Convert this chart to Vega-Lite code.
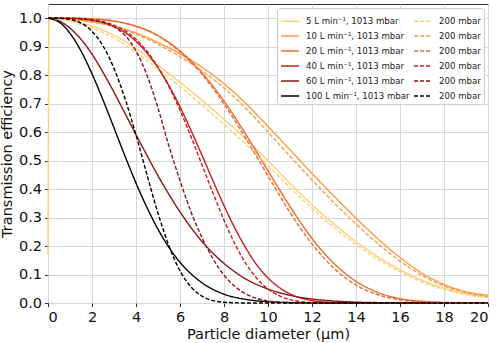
{
  "$schema": "https://vega.github.io/schema/vega-lite/v6.json",
  "width": 440,
  "height": 299,
  "autosize": {"type": "none"},
  "padding": {"left": 48, "top": 4, "right": 12, "bottom": 40},
  "config": {
    "font": "DejaVu Sans",
    "view": {"stroke": "#333333", "strokeWidth": 1},
    "axis": {
      "domain": false,
      "grid": true,
      "gridColor": "#d9d9d9",
      "gridWidth": 1,
      "tickColor": "#333333",
      "tickSize": 3.5,
      "labelFontSize": 14.5,
      "labelColor": "#111111",
      "titleFontSize": 14.5,
      "titleFontWeight": "normal",
      "titleColor": "#111111"
    },
    "legend": {
      "labelFontSize": 8.6,
      "labelColor": "#222222",
      "symbolSize": 324,
      "symbolStrokeWidth": 1.5,
      "symbolType": "stroke",
      "rowPadding": -0.2,
      "columnPadding": 1,
      "labelOffset": 6,
      "padding": 3,
      "fillColor": "rgba(255,255,255,0.85)",
      "strokeColor": "#cccccc",
      "cornerRadius": 3
    }
  },
  "data": {
    "values": [
      {"s":"5s","d":0,"v":0.17},{"s":"5s","d":0.05,"v":1.0},{"s":"5s","d":0.5,"v":0.998},{"s":"5s","d":1,"v":0.992},{"s":"5s","d":1.5,"v":0.983},{"s":"5s","d":2,"v":0.972},{"s":"5s","d":3,"v":0.94},{"s":"5s","d":4,"v":0.893},{"s":"5s","d":5,"v":0.835},{"s":"5s","d":6,"v":0.775},{"s":"5s","d":7,"v":0.712},{"s":"5s","d":8,"v":0.645},{"s":"5s","d":9,"v":0.575},{"s":"5s","d":10,"v":0.5},{"s":"5s","d":11,"v":0.42},{"s":"5s","d":12,"v":0.345},{"s":"5s","d":13,"v":0.277},{"s":"5s","d":14,"v":0.215},{"s":"5s","d":15,"v":0.162},{"s":"5s","d":16,"v":0.117},{"s":"5s","d":17,"v":0.08},{"s":"5s","d":18,"v":0.052},{"s":"5s","d":19,"v":0.033},{"s":"5s","d":20,"v":0.022},
      {"s":"10s","d":0,"v":1},{"s":"10s","d":1,"v":0.997},{"s":"10s","d":2,"v":0.988},{"s":"10s","d":3,"v":0.972},{"s":"10s","d":4,"v":0.948},{"s":"10s","d":5,"v":0.915},{"s":"10s","d":6,"v":0.875},{"s":"10s","d":7,"v":0.828},{"s":"10s","d":8,"v":0.77},{"s":"10s","d":9,"v":0.7},{"s":"10s","d":10,"v":0.62},{"s":"10s","d":11,"v":0.538},{"s":"10s","d":12,"v":0.455},{"s":"10s","d":13,"v":0.375},{"s":"10s","d":14,"v":0.298},{"s":"10s","d":15,"v":0.225},{"s":"10s","d":16,"v":0.16},{"s":"10s","d":17,"v":0.105},{"s":"10s","d":18,"v":0.065},{"s":"10s","d":19,"v":0.04},{"s":"10s","d":20,"v":0.027},
      {"s":"20s","d":0,"v":1},{"s":"20s","d":1,"v":1.0},{"s":"20s","d":2,"v":0.998},{"s":"20s","d":3,"v":0.99},{"s":"20s","d":4,"v":0.972},{"s":"20s","d":5,"v":0.939},{"s":"20s","d":6,"v":0.885},{"s":"20s","d":7,"v":0.808},{"s":"20s","d":8,"v":0.709},{"s":"20s","d":9,"v":0.591},{"s":"20s","d":10,"v":0.464},{"s":"20s","d":11,"v":0.339},{"s":"20s","d":12,"v":0.227},{"s":"20s","d":13,"v":0.139},{"s":"20s","d":14,"v":0.076},{"s":"20s","d":15,"v":0.037},{"s":"20s","d":16,"v":0.015},{"s":"20s","d":17,"v":0.006},{"s":"20s","d":18,"v":0.002},{"s":"20s","d":19,"v":0.0005},{"s":"20s","d":20,"v":0.0001},
      {"s":"40s","d":0,"v":1},{"s":"40s","d":1,"v":0.9995},{"s":"40s","d":2,"v":0.993},{"s":"40s","d":2.5,"v":0.985},{"s":"40s","d":3,"v":0.971},{"s":"40s","d":3.5,"v":0.95},{"s":"40s","d":4,"v":0.919},{"s":"40s","d":4.5,"v":0.878},{"s":"40s","d":5,"v":0.826},{"s":"40s","d":5.5,"v":0.763},{"s":"40s","d":6,"v":0.689},{"s":"40s","d":6.5,"v":0.606},{"s":"40s","d":7,"v":0.519},{"s":"40s","d":7.5,"v":0.429},{"s":"40s","d":8,"v":0.342},{"s":"40s","d":8.5,"v":0.262},{"s":"40s","d":9,"v":0.192},{"s":"40s","d":9.5,"v":0.133},{"s":"40s","d":10,"v":0.088},{"s":"40s","d":10.5,"v":0.055},{"s":"40s","d":11,"v":0.032},{"s":"40s","d":12,"v":0.0087},{"s":"40s","d":13,"v":0.0017},{"s":"40s","d":14,"v":0.0003},{"s":"40s","d":16,"v":0},{"s":"40s","d":20,"v":0},
      {"s":"60s","d":0,"v":1},{"s":"60s","d":0.5,"v":0.991},{"s":"60s","d":1,"v":0.965},{"s":"60s","d":1.5,"v":0.926},{"s":"60s","d":2,"v":0.874},{"s":"60s","d":2.5,"v":0.81},{"s":"60s","d":3,"v":0.74},{"s":"60s","d":3.5,"v":0.666},{"s":"60s","d":4,"v":0.591},{"s":"60s","d":4.5,"v":0.518},{"s":"60s","d":5,"v":0.447},{"s":"60s","d":5.5,"v":0.381},{"s":"60s","d":6,"v":0.32},{"s":"60s","d":7,"v":0.216},{"s":"60s","d":8,"v":0.139},{"s":"60s","d":9,"v":0.084},{"s":"60s","d":10,"v":0.049},{"s":"60s","d":11,"v":0.027},{"s":"60s","d":12,"v":0.014},{"s":"60s","d":13,"v":0.007},{"s":"60s","d":14,"v":0.003},{"s":"60s","d":15,"v":0.0014},{"s":"60s","d":16,"v":0.0006},{"s":"60s","d":17,"v":0.0002},{"s":"60s","d":20,"v":0},
      {"s":"100s","d":0,"v":1},{"s":"100s","d":0.5,"v":0.987},{"s":"100s","d":1,"v":0.947},{"s":"100s","d":1.5,"v":0.885},{"s":"100s","d":2,"v":0.805},{"s":"100s","d":2.5,"v":0.713},{"s":"100s","d":3,"v":0.615},{"s":"100s","d":3.5,"v":0.516},{"s":"100s","d":4,"v":0.421},{"s":"100s","d":4.5,"v":0.335},{"s":"100s","d":5,"v":0.259},{"s":"100s","d":5.5,"v":0.195},{"s":"100s","d":6,"v":0.143},{"s":"100s","d":7,"v":0.071},{"s":"100s","d":8,"v":0.031},{"s":"100s","d":9,"v":0.0125},{"s":"100s","d":10,"v":0.0045},{"s":"100s","d":11,"v":0.0014},{"s":"100s","d":12,"v":0.0004},{"s":"100s","d":14,"v":0},{"s":"100s","d":20,"v":0},
      {"s":"5d","d":0,"v":1},{"s":"5d","d":0.5,"v":0.997},{"s":"5d","d":1,"v":0.99},{"s":"5d","d":1.5,"v":0.978},{"s":"5d","d":2,"v":0.965},{"s":"5d","d":3,"v":0.93},{"s":"5d","d":4,"v":0.88},{"s":"5d","d":5,"v":0.822},{"s":"5d","d":6,"v":0.76},{"s":"5d","d":7,"v":0.695},{"s":"5d","d":8,"v":0.627},{"s":"5d","d":9,"v":0.557},{"s":"5d","d":10,"v":0.482},{"s":"5d","d":11,"v":0.405},{"s":"5d","d":12,"v":0.332},{"s":"5d","d":13,"v":0.265},{"s":"5d","d":14,"v":0.205},{"s":"5d","d":15,"v":0.153},{"s":"5d","d":16,"v":0.11},{"s":"5d","d":17,"v":0.074},{"s":"5d","d":18,"v":0.048},{"s":"5d","d":19,"v":0.03},{"s":"5d","d":20,"v":0.019},
      {"s":"10d","d":0,"v":1},{"s":"10d","d":1,"v":0.997},{"s":"10d","d":2,"v":0.987},{"s":"10d","d":3,"v":0.97},{"s":"10d","d":4,"v":0.944},{"s":"10d","d":5,"v":0.908},{"s":"10d","d":6,"v":0.865},{"s":"10d","d":7,"v":0.815},{"s":"10d","d":8,"v":0.755},{"s":"10d","d":9,"v":0.683},{"s":"10d","d":10,"v":0.6},{"s":"10d","d":11,"v":0.515},{"s":"10d","d":12,"v":0.432},{"s":"10d","d":13,"v":0.352},{"s":"10d","d":14,"v":0.277},{"s":"10d","d":15,"v":0.208},{"s":"10d","d":16,"v":0.147},{"s":"10d","d":17,"v":0.097},{"s":"10d","d":18,"v":0.06},{"s":"10d","d":19,"v":0.036},{"s":"10d","d":20,"v":0.023},
      {"s":"20d","d":0,"v":1},{"s":"20d","d":1,"v":1.0},{"s":"20d","d":2,"v":0.998},{"s":"20d","d":3,"v":0.99},{"s":"20d","d":4,"v":0.972},{"s":"20d","d":5,"v":0.938},{"s":"20d","d":6,"v":0.882},{"s":"20d","d":7,"v":0.803},{"s":"20d","d":8,"v":0.699},{"s":"20d","d":9,"v":0.577},{"s":"20d","d":10,"v":0.446},{"s":"20d","d":11,"v":0.318},{"s":"20d","d":12,"v":0.207},{"s":"20d","d":13,"v":0.122},{"s":"20d","d":14,"v":0.063},{"s":"20d","d":15,"v":0.029},{"s":"20d","d":16,"v":0.011},{"s":"20d","d":17,"v":0.004},{"s":"20d","d":18,"v":0.0012},{"s":"20d","d":19,"v":0.0003},{"s":"20d","d":20,"v":0.0001},
      {"s":"40d","d":0,"v":1},{"s":"40d","d":1,"v":1.0},{"s":"40d","d":2,"v":0.995},{"s":"40d","d":2.5,"v":0.988},{"s":"40d","d":3,"v":0.976},{"s":"40d","d":3.5,"v":0.956},{"s":"40d","d":4,"v":0.926},{"s":"40d","d":4.5,"v":0.884},{"s":"40d","d":5,"v":0.828},{"s":"40d","d":5.5,"v":0.759},{"s":"40d","d":6,"v":0.677},{"s":"40d","d":6.5,"v":0.584},{"s":"40d","d":7,"v":0.485},{"s":"40d","d":7.5,"v":0.386},{"s":"40d","d":8,"v":0.291},{"s":"40d","d":8.5,"v":0.207},{"s":"40d","d":9,"v":0.138},{"s":"40d","d":9.5,"v":0.086},{"s":"40d","d":10,"v":0.049},{"s":"40d","d":10.5,"v":0.026},{"s":"40d","d":11,"v":0.012},{"s":"40d","d":12,"v":0.0019},{"s":"40d","d":13,"v":0.0002},{"s":"40d","d":15,"v":0},{"s":"40d","d":20,"v":0},
      {"s":"60d","d":0,"v":1},{"s":"60d","d":1,"v":0.999},{"s":"60d","d":1.5,"v":0.997},{"s":"60d","d":2,"v":0.993},{"s":"60d","d":2.5,"v":0.985},{"s":"60d","d":3,"v":0.97},{"s":"60d","d":3.5,"v":0.94},{"s":"60d","d":4,"v":0.885},{"s":"60d","d":4.5,"v":0.8},{"s":"60d","d":5,"v":0.685},{"s":"60d","d":5.5,"v":0.55},{"s":"60d","d":6,"v":0.43},{"s":"60d","d":6.5,"v":0.32},{"s":"60d","d":7,"v":0.23},{"s":"60d","d":7.5,"v":0.155},{"s":"60d","d":8,"v":0.098},{"s":"60d","d":8.5,"v":0.058},{"s":"60d","d":9,"v":0.032},{"s":"60d","d":9.5,"v":0.016},{"s":"60d","d":10,"v":0.007},{"s":"60d","d":10.5,"v":0.003},{"s":"60d","d":11,"v":0.001},{"s":"60d","d":13,"v":0},{"s":"60d","d":20,"v":0},
      {"s":"100d","d":0,"v":1},{"s":"100d","d":0.5,"v":1.0},{"s":"100d","d":1,"v":0.996},{"s":"100d","d":1.5,"v":0.983},{"s":"100d","d":2,"v":0.954},{"s":"100d","d":2.5,"v":0.903},{"s":"100d","d":3,"v":0.824},{"s":"100d","d":3.5,"v":0.718},{"s":"100d","d":4,"v":0.59},{"s":"100d","d":4.5,"v":0.45},{"s":"100d","d":5,"v":0.315},{"s":"100d","d":5.5,"v":0.2},{"s":"100d","d":6,"v":0.113},{"s":"100d","d":6.5,"v":0.056},{"s":"100d","d":7,"v":0.024},{"s":"100d","d":7.5,"v":0.0085},{"s":"100d","d":8,"v":0.0025},{"s":"100d","d":9,"v":0.0001},{"s":"100d","d":11,"v":0},{"s":"100d","d":20,"v":0}
    ]
  },
  "mark": {"type": "line", "strokeWidth": 1.4, "interpolate": "monotone"},
  "encoding": {
    "x": {
      "field": "d", "type": "quantitative",
      "scale": {"domain": [0, 20], "nice": false},
      "axis": {"title": "Particle diameter (µm)", "values": [0,2,4,6,8,10,12,14,16,18,20], "labelPadding": 3.5, "titlePadding": 4}
    },
    "y": {
      "field": "v", "type": "quantitative",
      "scale": {"domain": [0, 1.05], "nice": false, "zero": false},
      "axis": {"title": "Transmission efficiency", "values": [0,0.1,0.2,0.3,0.4,0.5,0.6,0.7,0.8,0.9,1.0], "format": ".1f", "labelPadding": 3, "titlePadding": 4}
    },
    "color": {
      "field": "s", "type": "nominal",
      "scale": {
        "domain": ["5s","10s","20s","40s","60s","100s","5d","10d","20d","40d","60d","100d"],
        "range": ["#fecf76","#fd9b45","#ec6a2c","#c81b1b","#8a1616","#000000","#fecf76","#fd9b45","#ec6a2c","#c81b1b","#8a1616","#000000"]
      },
      "legend": {
        "title": null,
        "orient": "top-right",
        "offset": 4,
        "columns": 2,
        "labelExpr": "indexof(datum.value, 'd') >= 0 ? '200 mbar' : replace(datum.value, 's', '') + ' L min⁻¹, 1013 mbar'"
      }
    },
    "strokeDash": {
      "field": "s", "type": "nominal",
      "scale": {
        "domain": ["5s","10s","20s","40s","60s","100s","5d","10d","20d","40d","60d","100d"],
        "range": [[1,0],[1,0],[1,0],[1,0],[1,0],[1,0],[4,2],[4,2],[4,2],[4,2],[4,2],[4,2]]
      }
    }
  }
}
